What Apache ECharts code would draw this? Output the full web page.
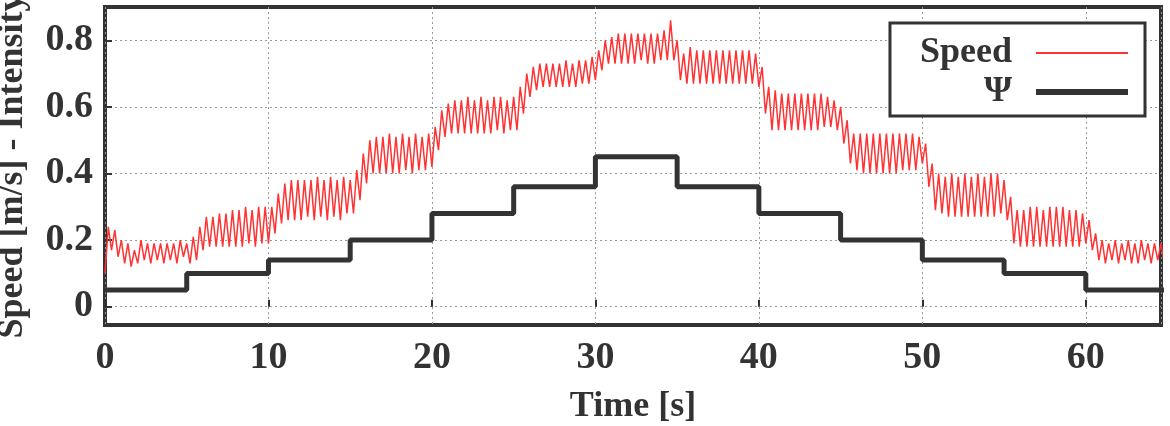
<!DOCTYPE html>
<html>
<head>
<meta charset="utf-8">
<script src="https://cdn.jsdelivr.net/npm/echarts@6/dist/echarts.min.js"></script>
<style>
  html, body { margin: 0; padding: 0; background: #fff; }
  #chart { width: 1170px; height: 426px; }
</style>
</head>
<body>
<div id="chart"></div>
<script>
// sampling step of the speed trace (s)
const dt = 0.2;

// speed [m/s], one row per 5 s block (alternating peak / trough)
const speed = [
  0.10, 0.24, 0.17, 0.23, 0.15, 0.20, 0.13, 0.19, 0.12, 0.17, 0.13, 0.20, 0.14, 0.19, 0.13, 0.19, 0.14, 0.19, 0.13, 0.19, 0.14, 0.19, 0.13, 0.20, 0.15,
  0.19, 0.13, 0.21, 0.14, 0.24, 0.17, 0.27, 0.18, 0.27, 0.18, 0.28, 0.18, 0.28, 0.18, 0.29, 0.18, 0.29, 0.18, 0.30, 0.19, 0.29, 0.18, 0.30, 0.19, 0.30,
  0.19, 0.30, 0.22, 0.34, 0.25, 0.37, 0.26, 0.38, 0.26, 0.38, 0.26, 0.38, 0.27, 0.38, 0.26, 0.39, 0.27, 0.38, 0.26, 0.39, 0.27, 0.38, 0.26, 0.39, 0.28,
  0.38, 0.28, 0.41, 0.32, 0.46, 0.37, 0.50, 0.40, 0.51, 0.40, 0.51, 0.40, 0.52, 0.40, 0.51, 0.40, 0.52, 0.41, 0.51, 0.40, 0.52, 0.41, 0.51, 0.41, 0.52,
  0.42, 0.54, 0.47, 0.59, 0.51, 0.61, 0.52, 0.62, 0.52, 0.62, 0.52, 0.63, 0.52, 0.62, 0.52, 0.63, 0.52, 0.62, 0.52, 0.63, 0.53, 0.63, 0.52, 0.62, 0.53,
  0.63, 0.53, 0.66, 0.58, 0.70, 0.63, 0.72, 0.65, 0.73, 0.66, 0.73, 0.66, 0.73, 0.66, 0.73, 0.66, 0.74, 0.66, 0.73, 0.66, 0.74, 0.67, 0.74, 0.67, 0.75,
  0.68, 0.77, 0.71, 0.80, 0.73, 0.81, 0.73, 0.82, 0.73, 0.82, 0.73, 0.82, 0.73, 0.82, 0.74, 0.82, 0.73, 0.82, 0.73, 0.82, 0.74, 0.83, 0.74, 0.86, 0.74,
  0.80, 0.68, 0.76, 0.67, 0.78, 0.67, 0.77, 0.67, 0.77, 0.67, 0.77, 0.67, 0.77, 0.67, 0.77, 0.67, 0.77, 0.67, 0.77, 0.67, 0.77, 0.67, 0.77, 0.67, 0.76,
  0.66, 0.72, 0.58, 0.66, 0.53, 0.65, 0.53, 0.64, 0.53, 0.64, 0.53, 0.64, 0.53, 0.64, 0.53, 0.64, 0.53, 0.64, 0.53, 0.64, 0.54, 0.63, 0.54, 0.62, 0.53,
  0.60, 0.49, 0.56, 0.43, 0.52, 0.41, 0.52, 0.40, 0.52, 0.40, 0.52, 0.40, 0.52, 0.40, 0.52, 0.40, 0.52, 0.40, 0.52, 0.41, 0.52, 0.41, 0.52, 0.41, 0.51,
  0.43, 0.49, 0.36, 0.43, 0.29, 0.40, 0.28, 0.39, 0.27, 0.40, 0.27, 0.39, 0.27, 0.40, 0.27, 0.39, 0.27, 0.40, 0.27, 0.39, 0.27, 0.40, 0.27, 0.40, 0.28,
  0.38, 0.26, 0.33, 0.19, 0.29, 0.18, 0.29, 0.18, 0.30, 0.18, 0.30, 0.18, 0.29, 0.18, 0.30, 0.18, 0.30, 0.18, 0.30, 0.18, 0.29, 0.18, 0.29, 0.18, 0.28,
  0.19, 0.26, 0.17, 0.22, 0.14, 0.20, 0.13, 0.19, 0.14, 0.20, 0.13, 0.19, 0.14, 0.20, 0.13, 0.19, 0.13, 0.20, 0.14, 0.19, 0.13, 0.19, 0.14, 0.19, 0.13
];

// intensity steps
const psiTimes = [0, 5, 10, 15, 20, 25, 30, 35, 40, 45, 50, 55, 60, 65];
const psiLevels = [0.05, 0.10, 0.14, 0.20, 0.28, 0.36, 0.45, 0.36, 0.28, 0.20, 0.14, 0.10, 0.05, 0.05];

const yTicks = [0, 0.2, 0.4, 0.6, 0.8];

const speedData = speed.map((v, i) => [+(i * dt).toFixed(1), v]);
const psiData = psiTimes.map((t, i) => [t, psiLevels[i]]);

const font = 'Liberation Serif';
const ink = '#333';
const red = '#ff3333';

const chart = echarts.init(document.getElementById('chart'));
chart.setOption({
  animation: false,
  grid: {
    left: 105, right: 9, top: 7, bottom: 101,
    outerBoundsMode: 'none',
    show: true,
    borderColor: ink,
    borderWidth: 4,
    backgroundColor: '#fff'
  },
  legend: {
    right: 25,
    top: 23,
    orient: 'vertical',
    align: 'right',
    itemWidth: 92,
    itemHeight: 24,
    itemGap: 3,
    padding: [12, 14, 6, 30],
    backgroundColor: '#fff',
    borderColor: ink,
    borderWidth: 3,
    borderRadius: 0,
    itemStyle: { opacity: 0 },
    textStyle: { fontFamily: font, fontWeight: 'bold', fontSize: 36, color: ink, padding: [0, 19, 0, 0] },
    data: [
      { name: 'Speed', lineStyle: { color: red, width: 2 } },
      { name: 'Ψ', lineStyle: { color: ink, width: 6 } }
    ]
  },
  xAxis: {
    type: 'value',
    min: 0,
    max: 64.6,
    interval: 10,
    name: 'Time [s]',
    nameLocation: 'middle',
    nameGap: 64,
    nameTextStyle: { fontFamily: font, fontWeight: 'bold', fontSize: 36, color: ink },
    axisLine: { show: false },
    axisTick: { show: true, inside: true, length: 7, lineStyle: { color: ink, width: 2 } },
    axisLabel: { fontFamily: font, fontWeight: 'bold', fontSize: 38, color: ink, margin: 14, showMaxLabel: false },
    splitLine: { show: true, lineStyle: { color: '#999', type: [2, 3], width: 1 } }
  },
  yAxis: {
    type: 'value',
    min: -0.055,
    max: 0.9,
    name: 'Speed [m/s] - Intensity',
    nameLocation: 'middle',
    nameGap: 74,
    nameTextStyle: { fontFamily: font, fontWeight: 'bold', fontSize: 36, color: ink },
    axisLine: { show: false },
    axisTick: { show: true, inside: true, length: 7, customValues: yTicks, lineStyle: { color: ink, width: 2 } },
    axisLabel: { fontFamily: font, fontWeight: 'bold', fontSize: 38, color: ink, margin: 12, customValues: yTicks },
    splitLine: { show: true, lineStyle: { color: '#999', type: [2, 3], width: 1 } }
  },
  series: [
    {
      name: 'Speed',
      type: 'line',
      data: speedData,
      symbol: 'none',
      color: red,
      lineStyle: { color: red, width: 1.5 },
      z: 2
    },
    {
      name: 'Ψ',
      type: 'line',
      data: psiData,
      step: 'end',
      symbol: 'none',
      color: ink,
      lineStyle: { color: ink, width: 5 },
      z: 3
    }
  ]
});
</script>
</body>
</html>
